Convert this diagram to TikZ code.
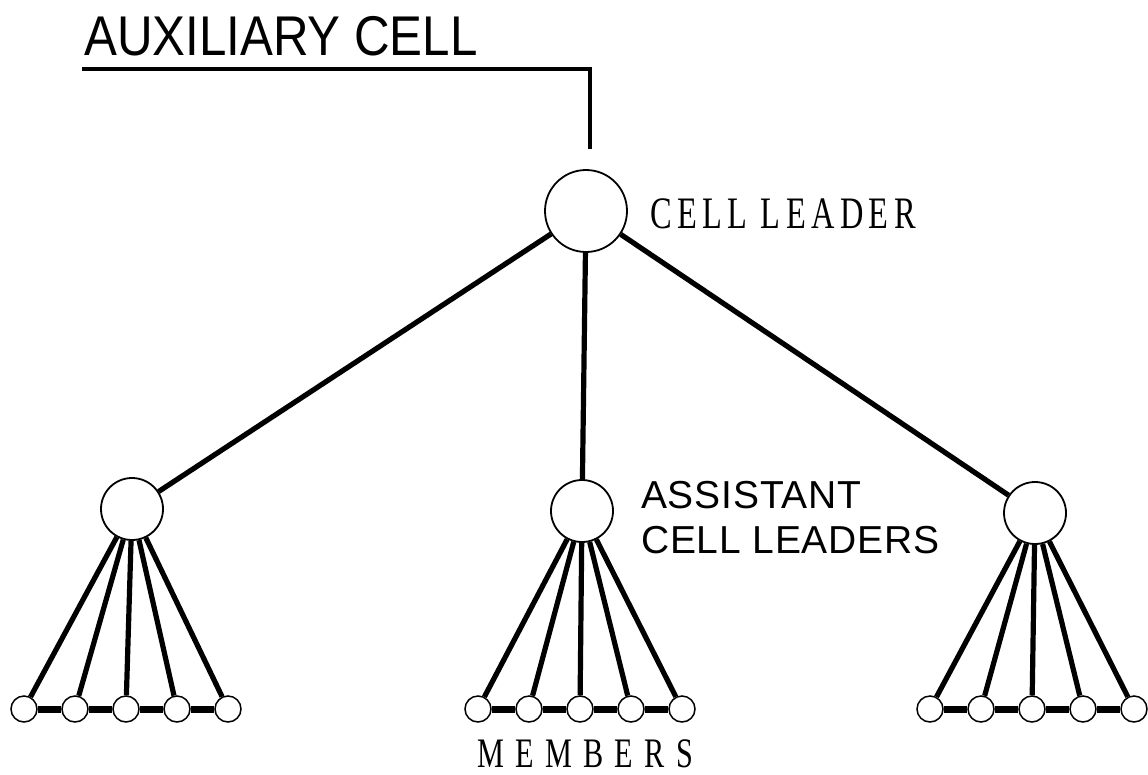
\documentclass[tikz,border=0pt]{standalone}
\usepackage{fontspec}
\setmainfont{Liberation Serif}
\newfontfamily\titlefont[FakeStretch=0.88]{Liberation Sans}
\newfontfamily\labelfont[LetterSpace=2]{Liberation Sans}
\newfontfamily\spacedfont[FakeStretch=0.72,LetterSpace=12]{Liberation Serif}
\newfontfamily\widefont[FakeStretch=0.72,LetterSpace=27]{Liberation Serif}
\usetikzlibrary{positioning}

\begin{document}
\begin{tikzpicture}[x=1pt,y=-1pt,
		person/.style={circle, draw, line width=1.8pt, fill=white, inner sep=0pt},
		leader/.style={person, minimum size=82pt},
		assistant/.style={person, minimum size=62pt},
		member/.style={person, line width=1.5pt, minimum size=26pt},
		link/.style={line width=5.2pt},
		bar/.style={line width=7pt}]
		\useasboundingbox[fill=white] (0,0) rectangle (1148,774);

		%title & its bracket
		\node[anchor=base west, inner sep=0pt] (title) at (84,55) {\titlefont\fontsize{56}{60}\selectfont AUXILIARY CELL};
		\coordinate (ul) at (82,69);
		\coordinate (corner) at (590,69);
		\coordinate (tail) at (590,149);
		\draw[line width=4.2pt] (ul) -- (corner) -- (tail);

		%draw leaders
		\node[leader] (cl) at (586,211) {};
		\node[assistant] (al) at (132,509) {};
		\node[assistant] (am) at (582,511) {};
		\node[assistant] (ar) at (1035,513) {};

		\draw[link] (cl) -- (al);
		\draw[link] (cl) -- (am);
		\draw[link] (cl) -- (ar);

		%draw members
		\foreach \g/\x/\a in {l/24/al, m/478/am, r/930/ar}
		{
			\foreach \i in {1,...,5}
			{
				\node[member] (\g\i) at ({\x+51*(\i-1)},709) {};
				\draw[link] (\a) -- (\g\i);
			}
			\foreach \i/\j in {1/2,2/3,3/4,4/5}
				\draw[bar] (\g\i) -- (\g\j);
		}

		%labels
		\node[anchor=base west, inner sep=0pt] (cltext) at (650,228) {\spacedfont\fontsize{45}{50}\selectfont CELL LEADER};
		\node[anchor=west, inner sep=0pt, align=left, font={\labelfont\fontsize{39}{45}\selectfont}] (astext) at (641,518) {ASSISTANT\\CELL LEADERS};
		\node[anchor=base west, inner sep=0pt] (mtext) at (477,767) {\widefont\fontsize{42}{46}\selectfont MEMBERS};
\end{tikzpicture}
\end{document}
